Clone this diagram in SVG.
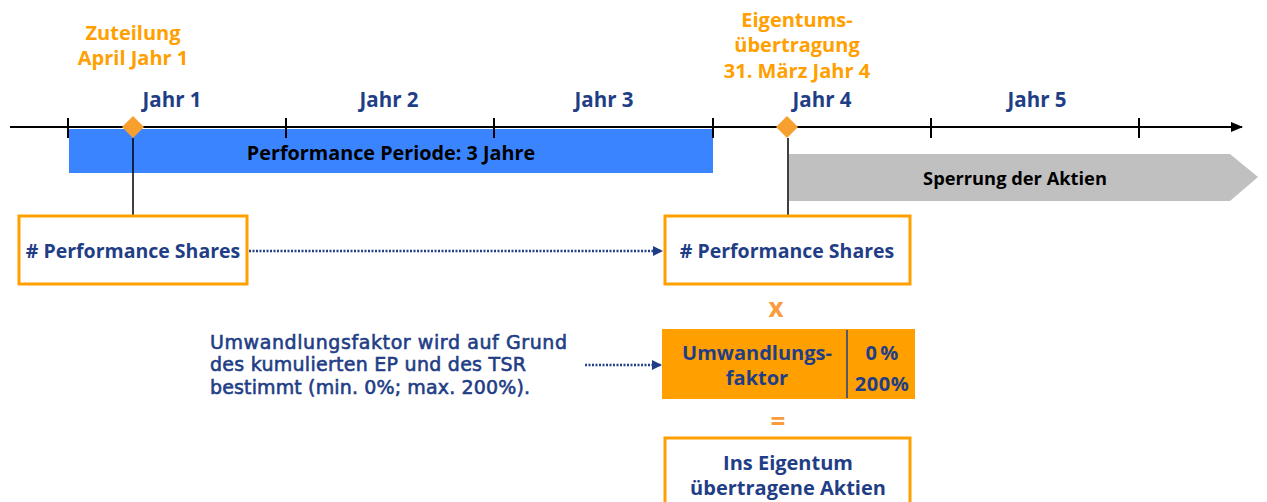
<svg xmlns="http://www.w3.org/2000/svg" width="1267" height="502" viewBox="0 0 1267 502">
<defs>
<style>
text{font-family:"Open Sans","Liberation Sans",sans-serif;font-weight:bold;}
.yr{fill:#1F3E86;font-size:20.5px;text-anchor:middle;}
.or{fill:#FFA000;font-size:20px;text-anchor:middle;}
.bt{fill:#1F3E86;font-size:19.5px;text-anchor:middle;}
.ft{fill:#1F3E86;font-size:20px;text-anchor:middle;}
.ex{fill:#1F3E86;stroke:#1F3E86;stroke-width:0.6;font-family:"DejaVu Sans","Open Sans",sans-serif;font-size:19px;font-weight:normal;}
.box{fill:#fff;stroke:#FFA000;stroke-width:3;}
.tick{stroke:#000;stroke-width:2;}
.dot{stroke:#1F3E86;stroke-width:2.5;stroke-dasharray:2 1.5;fill:none;}
.vl{stroke:#000;stroke-width:1.5;}
</style>
<marker id="ah" markerWidth="10" markerHeight="10" refX="9" refY="5" orient="auto" markerUnits="userSpaceOnUse"><path d="M0,0 L10,5 L0,10 Z" fill="#1F3E86"/></marker>
<marker id="ahk" markerWidth="12" markerHeight="12" refX="11" refY="6" orient="auto" markerUnits="userSpaceOnUse"><path d="M0,1 L12,6 L0,11 Z" fill="#000"/></marker>
</defs>
<g id="timeline">
<rect x="69" y="129" width="644" height="44" fill="#3A85FF"/>
<text x="391" y="160" style="font-size:19.8px;fill:#000;text-anchor:middle">Performance Periode: 3 Jahre</text>
<path d="M789,154 L1230,154 L1258,177 L1230,201 L789,201 Z" fill="#C0C0C0"/>
<text x="1015" y="185" style="font-size:18.3px;fill:#000;text-anchor:middle">Sperrung der Aktien</text>
<line x1="10" y1="127" x2="1242" y2="127" stroke="#000" stroke-width="2.2" marker-end="url(#ahk)"/>
<line class="tick" x1="68" y1="118" x2="68" y2="138"/>
<line class="tick" x1="286" y1="118" x2="286" y2="138"/>
<line class="tick" x1="494" y1="118" x2="494" y2="138"/>
<line class="tick" x1="713" y1="118" x2="713" y2="138"/>
<line class="tick" x1="931" y1="118" x2="931" y2="138"/>
<line class="tick" x1="1139" y1="118" x2="1139" y2="138"/>
<text class="yr" x="172" y="107">Jahr 1</text>
<text class="yr" x="389" y="107">Jahr 2</text>
<text class="yr" x="604" y="107">Jahr 3</text>
<text class="yr" x="822" y="107">Jahr 4</text>
<text class="yr" x="1037" y="107">Jahr 5</text>
</g>
<g id="zuteilung">
<text class="or" x="133" y="40">Zuteilung</text>
<text class="or" x="133" y="65">April Jahr 1</text>
<path d="M133,116 L144,127 L133,138 L122,127 Z" fill="#F7A030"/>
</g>
<g id="eigentum">
<text class="or" x="797" y="27">Eigentums-</text>
<text class="or" x="797" y="52">übertragung</text>
<text class="or" x="797" y="78">31. März Jahr 4</text>
<path d="M787,116 L798,127 L787,138 L776,127 Z" fill="#F7A030"/>
</g>
<g id="connectors">
<line class="vl" x1="133" y1="138" x2="133" y2="215"/>
<line class="vl" x1="788" y1="138" x2="788" y2="216"/>
<line class="dot" x1="249" y1="251" x2="662" y2="251" marker-end="url(#ah)"/>
<line class="dot" x1="585" y1="365" x2="661" y2="365" marker-end="url(#ah)"/>
</g>
<g id="shares1">
<rect class="box" x="19" y="216" width="228" height="68"/>
<text class="bt" x="133" y="258">#&#160;Performance Shares</text>
</g>
<g id="shares2">
<rect class="box" x="665" y="216" width="245" height="68"/>
<text class="bt" x="787" y="258">#&#160;Performance Shares</text>
</g>
<g id="mult">
<text x="776" y="317" style="font-size:26px;fill:#F89C3C;text-anchor:middle">x</text>
</g>
<g id="faktor">
<rect x="662" y="329" width="253" height="70" fill="#FFA000"/>
<line x1="847" y1="330" x2="847" y2="398" stroke="#1F3E86" stroke-width="1.5"/>
<text class="ft" x="757" y="360">Umwandlungs-<tspan x="757" y="385">faktor</tspan></text>
<text class="ft" x="882" y="360">0&#8201;%<tspan x="882" y="391" letter-spacing="0.5">200%</tspan></text>
</g>
<g id="erlaeuterung">
<text class="ex" x="210" y="348.5" textLength="357" lengthAdjust="spacing">Umwandlungsfaktor wird auf Grund</text>
<text class="ex" x="210" y="371" textLength="316" lengthAdjust="spacing">des kumulierten EP und des TSR</text>
<text class="ex" x="210" y="393.5" textLength="320" lengthAdjust="spacing">bestimmt (min. 0%; max. 200%).</text>
</g>
<g id="gleich">
<text x="778" y="431" style="font-size:26px;fill:#F89C3C;text-anchor:middle">=</text>
</g>
<g id="ergebnis">
<rect class="box" x="665" y="438" width="245" height="80"/>
<text class="ft" x="788" y="470">Ins Eigentum<tspan x="788" y="495">übertragene Aktien</tspan></text>
</g>
</svg>
